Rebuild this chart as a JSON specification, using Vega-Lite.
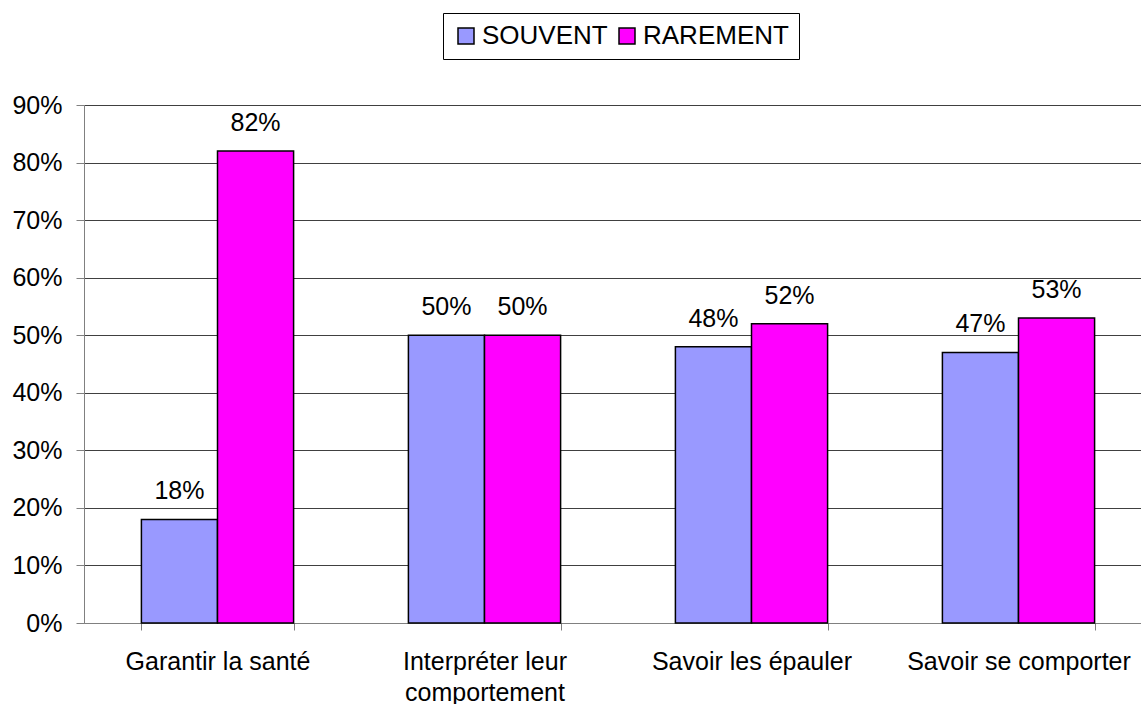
{
  "$schema": "https://vega.github.io/schema/vega-lite/v6.json",
  "autosize": "none",
  "padding": {"left": 84, "top": 105, "right": 0, "bottom": 81},
  "width": 1068,
  "height": 518,
  "background": "white",
  "config": {
    "font": "Liberation Sans",
    "view": {"stroke": null},
    "text": {"font": "Liberation Sans"}
  },
  "data": {
    "values": [
      {"categorie": "Garantir la santé", "serie": "SOUVENT", "valeur": 0.18},
      {"categorie": "Garantir la santé", "serie": "RAREMENT", "valeur": 0.82},
      {"categorie": "Interpréter leur comportement", "serie": "SOUVENT", "valeur": 0.50},
      {"categorie": "Interpréter leur comportement", "serie": "RAREMENT", "valeur": 0.50},
      {"categorie": "Savoir les épauler", "serie": "SOUVENT", "valeur": 0.48},
      {"categorie": "Savoir les épauler", "serie": "RAREMENT", "valeur": 0.52},
      {"categorie": "Savoir se comporter", "serie": "SOUVENT", "valeur": 0.47},
      {"categorie": "Savoir se comporter", "serie": "RAREMENT", "valeur": 0.53}
    ]
  },
  "encoding": {
    "x": {
      "field": "categorie",
      "type": "nominal",
      "sort": null,
      "title": null,
      "scale": {"paddingInner": 0.43, "paddingOuter": 0.215},
      "axis": {
        "labelAngle": 0,
        "labelFont": "Liberation Sans",
        "labelFontSize": 25,
        "labelColor": "#000",
        "labelPadding": 19,
        "labelLineHeight": 31,
        "labelExpr": "datum.label == 'Interpréter leur comportement' ? ['Interpréter leur', 'comportement'] : datum.label",
        "tickBand": "extent",
        "tickSize": 7,
        "tickColor": "#808080",
        "domainColor": "#808080",
        "labelLimit": 400
      }
    },
    "xOffset": {
      "field": "serie",
      "type": "nominal",
      "sort": ["SOUVENT", "RAREMENT"],
      "scale": {"paddingInner": 0, "paddingOuter": 0}
    },
    "y": {
      "field": "valeur",
      "type": "quantitative",
      "title": null,
      "scale": {"domain": [0, 0.9], "nice": false},
      "axis": {
        "values": [0, 0.1, 0.2, 0.3, 0.4, 0.5, 0.6, 0.7, 0.8, 0.9],
        "format": ".0%",
        "labelFont": "Liberation Sans",
        "labelFontSize": 25,
        "labelColor": "#000",
        "labelPadding": 14,
        "tickSize": 8,
        "tickColor": "#808080",
        "domainColor": "#808080",
        "gridColor": "#404040",
        "gridWidth": 1
      }
    }
  },
  "layer": [
    {
      "mark": {"type": "bar", "stroke": "#000", "strokeWidth": 1.5},
      "encoding": {
        "color": {
          "field": "serie",
          "type": "nominal",
          "sort": ["SOUVENT", "RAREMENT"],
          "scale": {"domain": ["SOUVENT", "RAREMENT"], "range": ["#9999FF", "#FF00FF"]},
          "legend": {
            "title": null,
            "orient": "none",
            "direction": "horizontal",
            "legendX": 359,
            "legendY": -92,
            "labelFont": "Liberation Sans",
            "labelFontSize": 26,
            "labelColor": "#000",
            "labelOffset": 3,
            "columnPadding": 6,
            "symbolType": "square",
            "symbolSize": 256,
            "symbolStrokeColor": "#000",
            "symbolStrokeWidth": 1.5,
            "symbolOpacity": 1,
            "strokeColor": "#000",
            "padding": 10,
            "fillColor": "white"
          }
        }
      }
    },
    {
      "mark": {"type": "text", "baseline": "alphabetic", "dy": -20, "fontSize": 25, "color": "#000", "font": "Liberation Sans"},
      "encoding": {
        "text": {"field": "valeur", "type": "quantitative", "format": ".0%"}
      }
    }
  ]
}
